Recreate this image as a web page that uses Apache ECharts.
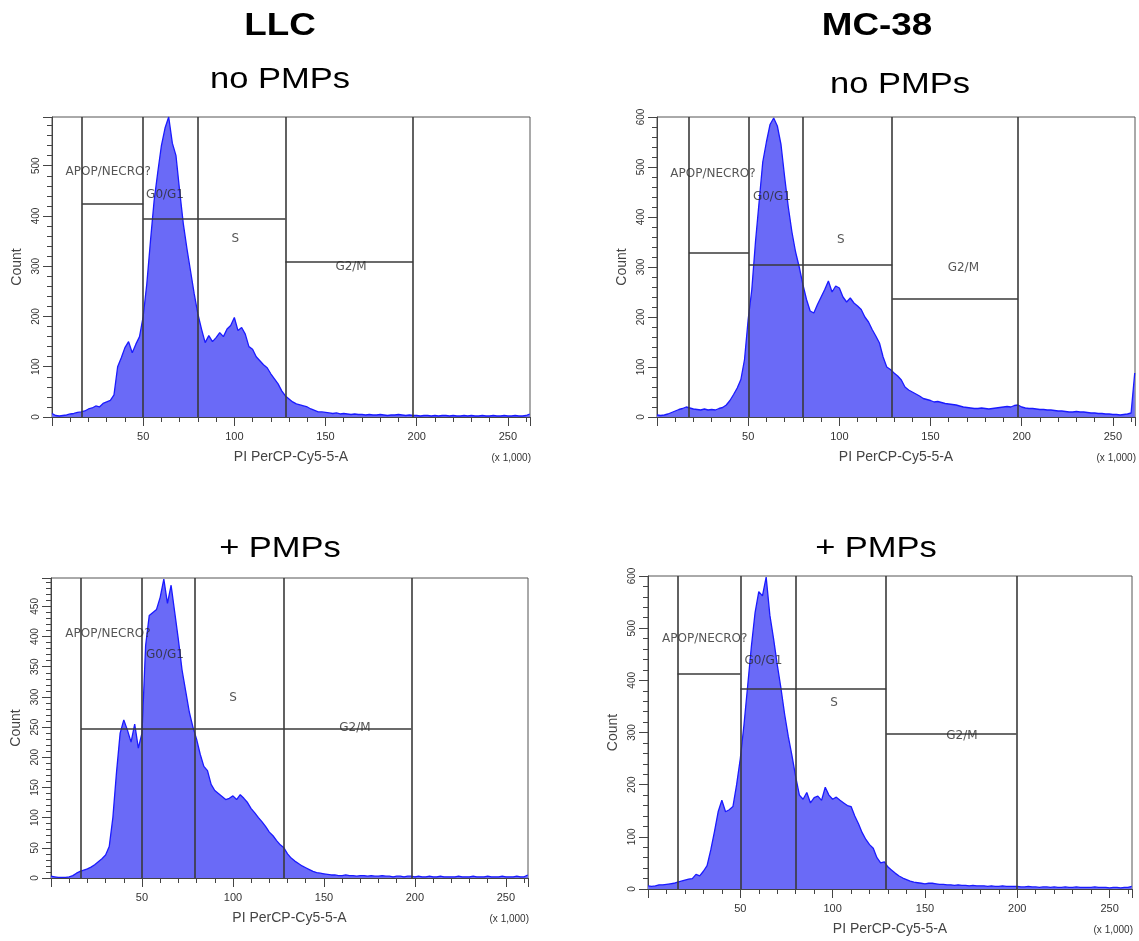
<!DOCTYPE html>
<html>
<head>
<meta charset="utf-8">
<script src="https://cdn.jsdelivr.net/npm/echarts@6/dist/echarts.min.js"></script>
<style>
  html, body { margin: 0; padding: 0; background: #fff; }
  #chart { width: 1139px; height: 941px; }
</style>
</head>
<body>
<div id="chart"></div>
<script>
// ---------------- DATA ----------------
// Histogram bins: channel value (x 1,000), one value every BIN_STEP units from 0 to 262
const BIN_STEP = 2;
const X_MAX = 262.144;

const LLC_NO_PMP = [
  7,3,2,3,4,6,7,9,10,12,
  16,18,22,20,27,30,33,44,100,118,
  138,150,128,145,160,200,265,350,430,487,
  540,575,597,545,520,450,385,335,290,245,
  205,175,148,162,150,158,168,160,175,182,
  198,172,178,165,140,135,120,112,104,98,
  86,76,66,52,42,36,30,26,24,22,
  20,16,13,10,10,9,8,7,8,6,
  7,6,5,6,5,5,4,5,4,4,
  5,4,3,4,4,5,4,3,4,3,
  3,2,3,3,2,3,2,3,3,2,
  3,2,2,3,2,3,2,2,3,2,
  2,3,2,2,3,2,2,3,2,2,
  3,6
];
const MC38_NO_PMP = [
  4,3,4,6,9,12,15,17,20,18,
  16,15,14,16,14,15,14,17,19,24,
  33,45,58,75,115,195,255,350,430,510,
  550,585,598,582,545,480,420,370,330,300,
  265,235,212,208,225,240,255,272,250,262,
  258,240,230,238,228,222,215,200,190,175,
  162,148,120,100,95,88,82,74,60,54,
  50,46,42,37,35,33,30,31,29,27,
  26,25,24,22,20,19,18,17,17,18,
  17,16,17,18,19,20,21,20,23,24,
  20,18,17,17,16,15,15,14,14,13,
  12,12,11,10,10,11,10,10,9,8,
  8,7,7,6,6,5,5,4,5,6,
  8,88
];
const LLC_PMP = [
  3,2,1,1,1,2,4,8,11,13,
  15,18,22,27,32,38,52,100,175,240,
  262,245,225,255,215,240,385,435,440,445,
  465,495,455,485,440,395,345,310,275,250,
  230,205,185,178,155,145,140,135,130,132,
  136,130,138,132,125,115,108,100,93,85,
  76,70,62,55,50,40,33,28,24,20,
  17,14,11,9,8,7,6,5,5,4,
  4,5,4,4,3,4,4,3,4,3,
  3,4,3,3,2,3,3,2,3,3,
  2,3,2,2,3,2,2,3,2,2,
  2,2,3,2,2,2,3,2,2,2,
  3,2,2,2,3,2,2,2,3,2,
  2,5
];
const MC38_PMP = [
  6,5,6,8,8,9,10,11,13,15,
  17,19,20,28,25,34,45,75,110,148,
  170,148,152,158,200,250,315,390,465,530,
  570,562,598,525,480,430,385,335,292,255,
  215,180,172,185,165,175,178,170,195,180,
  172,176,170,165,160,158,140,125,108,95,
  85,78,60,50,52,42,36,30,25,21,
  18,15,13,12,11,10,11,11,10,9,
  9,8,8,7,8,7,7,6,7,6,
  6,6,5,6,5,5,6,5,5,5,
  5,4,4,5,4,4,3,4,4,3,
  4,3,3,4,3,3,4,3,3,3,
  3,4,3,3,3,2,3,3,2,3,
  3,5
];

// Y-axis maxima (count) and tick steps
const Y_MAX = [597, 600, 497, 600];
const Y_MAJOR = [100, 100, 50, 100];
const Y_MINOR = [20, 20, 10, 20];

// Gate boundaries (vertical lines, x values)
const GATE_X = [
  [16.5, 50, 80, 128, 198],
  [17.5, 50.4, 80, 129, 198],
  [16.5, 50, 79, 128, 198],
  [16, 50, 80, 129, 199.5]
];
// Gate level segments [x1, x2, y]
const GATE_SEG = [
  [[16.5, 50, 424], [50, 128, 394], [128, 198, 308]],
  [[17.5, 50.4, 328], [50.4, 129, 304], [129, 198, 236]],
  [[16.5, 50, 248], [50, 128, 248], [128, 198, 248]],
  [[16, 50, 413], [50, 129, 384], [129, 199.5, 298]]
];
// Gate names and label anchor positions [x, y]
const GATE_NAMES = ['APOP/NECRO?', 'G0/G1', 'S', 'G2/M'];
const GATE_LABEL_POS = [
  [[30.8, 488], [62, 442], [100.5, 354], [164, 298]],
  [[30.7, 486], [63, 440], [100.8, 354], [168, 298]],
  [[31.3, 404], [62.6, 369], [100, 299], [167, 248]],
  [[30.7, 480], [62.5, 438], [100.8, 356], [170, 294]]
];

const COL_TITLES = ['LLC', 'MC-38'];
const ROW_TITLES = ['no PMPs', '+ PMPs'];
const X_NAME = 'PI PerCP-Cy5-5-A';
const Y_NAME = 'Count';
const X_UNIT = '(x 1,000)';

const SERIES = [LLC_NO_PMP, MC38_NO_PMP, LLC_PMP, MC38_PMP];

// ---------------- LAYOUT ----------------
const GRIDS = [
  { left: 52, top: 117, width: 478, height: 300 },
  { left: 657, top: 117, width: 478, height: 300 },
  { left: 51, top: 578, width: 477, height: 300 },
  { left: 648, top: 576, width: 484, height: 313 }
];

const FONT = '"Liberation Sans", Arial, sans-serif';
const GATE_FONT = '"DejaVu Sans", Tahoma, sans-serif';
const AXIS_COL = '#444';
const TEXT_COL = '#333';

const chart = echarts.init(document.getElementById('chart'), null, { renderer: 'canvas' });

const grid = [], xAxis = [], yAxis = [], series = [];

GRIDS.forEach((g, k) => {
  grid.push(Object.assign({ show: true, borderColor: '#555', borderWidth: 1, backgroundColor: '#fff' }, g));

  // minor x ticks
  xAxis.push({
    gridIndex: k, type: 'value', position: 'bottom', min: 0, max: X_MAX, interval: 10,
    axisLine: { show: true, lineStyle: { color: AXIS_COL, width: 1 } },
    axisTick: { show: true, length: 5, lineStyle: { color: AXIS_COL } },
    axisLabel: { show: false }, splitLine: { show: false }
  });
  // major x ticks + labels
  xAxis.push({
    gridIndex: k, type: 'value', position: 'bottom', min: 0, max: X_MAX, interval: 50,
    axisLine: { show: false },
    axisTick: { show: true, length: 9, lineStyle: { color: AXIS_COL } },
    axisLabel: {
      show: true, margin: 14, fontSize: 11, fontFamily: FONT, color: TEXT_COL,
      formatter: v => (v > 0 && v % 50 === 0) ? String(v) : ''
    },
    splitLine: { show: false },
    name: X_NAME, nameLocation: 'middle', nameGap: 33,
    nameTextStyle: { fontSize: 14, fontFamily: FONT, color: '#444' }
  });
  // minor y ticks
  yAxis.push({
    gridIndex: k, type: 'value', position: 'left', min: 0, max: Y_MAX[k], interval: Y_MINOR[k],
    axisLine: { show: true, lineStyle: { color: AXIS_COL, width: 1 } },
    axisTick: { show: true, length: 5, lineStyle: { color: AXIS_COL } },
    axisLabel: { show: false }, splitLine: { show: false }
  });
  // major y ticks + labels
  const step = Y_MAJOR[k];
  yAxis.push({
    gridIndex: k, type: 'value', position: 'left', min: 0, max: Y_MAX[k], interval: step,
    axisLine: { show: false },
    axisTick: { show: true, length: 9, lineStyle: { color: AXIS_COL } },
    axisLabel: {
      show: true, rotate: 90, margin: 11, fontSize: 10, fontFamily: FONT, color: TEXT_COL,
      formatter: v => (v % step === 0) ? String(v) : ''
    },
    splitLine: { show: false },
    name: Y_NAME, nameLocation: 'middle', nameGap: 28,
    nameTextStyle: { fontSize: 14, fontFamily: FONT, color: '#444' }
  });

  const vals = SERIES[k];
  const lineData = [];
  GATE_X[k].forEach(x => lineData.push({ xAxis: x }));
  GATE_SEG[k].forEach(s => lineData.push([{ coord: [s[0], s[2]] }, { coord: [s[1], s[2]] }]));

  series.push({
    type: 'line',
    xAxisIndex: 2 * k, yAxisIndex: 2 * k,
    data: vals.map((v, i) => [Math.min(i * BIN_STEP, X_MAX), v]),
    showSymbol: false, symbol: 'none',
    lineStyle: { color: '#1a1aff', width: 1.3 },
    areaStyle: { color: '#6a6af7', opacity: 1 },
    z: 2,
    markLine: {
      silent: true, symbol: ['none', 'none'], animation: false,
      label: { show: false },
      lineStyle: { color: '#3a3a3a', width: 1.6, type: 'solid' },
      emphasis: { disabled: true },
      data: lineData
    }
  });

  series.push({
    type: 'scatter',
    xAxisIndex: 2 * k, yAxisIndex: 2 * k,
    symbolSize: 2, itemStyle: { color: 'rgba(0,0,0,0)' }, z: 5, silent: true,
    data: GATE_LABEL_POS[k].map((p, j) => ({ value: p, name: GATE_NAMES[j] })),
    label: {
      show: true, position: 'inside', formatter: '{b}',
      fontSize: 12, fontFamily: GATE_FONT, color: '#2a2a2a'
    }
  });
});

// Titles and unit texts (layout only)
const graphic = [];
function title(text, x, y, size, bold) {
  graphic.push({
    type: 'text', x: x, y: y, scaleX: 1.15,
    style: {
      text: text, fill: '#000',
      font: (bold ? 'bold ' : '') + size + 'px ' + FONT,
      textAlign: 'center', textVerticalAlign: 'middle'
    }
  });
}
title(COL_TITLES[0], 280, 26, 32, true);
title(COL_TITLES[1], 877, 26, 32, true);
title(ROW_TITLES[0], 280, 80, 30, false);
title(ROW_TITLES[0], 900, 85, 30, false);
title(ROW_TITLES[1], 280, 549, 30, false);
title(ROW_TITLES[1], 876, 549, 30, false);

GRIDS.forEach(g => {
  graphic.push({
    type: 'text', x: g.left + g.width + 1, y: g.top + g.height + 41,
    style: { text: X_UNIT, fill: TEXT_COL, font: '10px ' + FONT, textAlign: 'right', textVerticalAlign: 'middle' }
  });
});

chart.setOption({
  animation: false,
  backgroundColor: '#fff',
  grid, xAxis, yAxis, series, graphic
});
</script>
</body>
</html>
